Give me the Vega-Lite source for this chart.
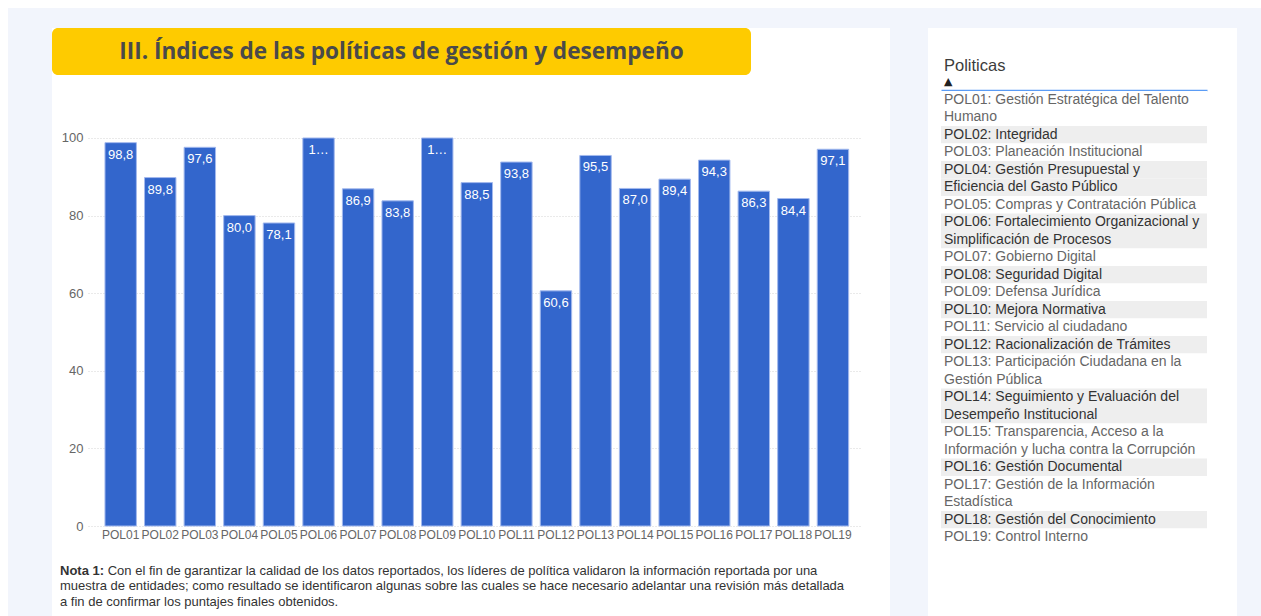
{
  "$schema": "https://vega.github.io/schema/vega-lite/v6.json",
  "padding": 0,
  "background": "#ffffff",
  "autosize": {"type": "pad"},
  "spacing": 0,
  "datasets": {
    "vacio": [{}],
    "politicas": [
      {"politica": "POL01", "indice": 98.8},
      {"politica": "POL02", "indice": 89.8},
      {"politica": "POL03", "indice": 97.6},
      {"politica": "POL04", "indice": 80.0},
      {"politica": "POL05", "indice": 78.1},
      {"politica": "POL06", "indice": 100.0},
      {"politica": "POL07", "indice": 86.9},
      {"politica": "POL08", "indice": 83.8},
      {"politica": "POL09", "indice": 100.0},
      {"politica": "POL10", "indice": 88.5},
      {"politica": "POL11", "indice": 93.8},
      {"politica": "POL12", "indice": 60.6},
      {"politica": "POL13", "indice": 95.5},
      {"politica": "POL14", "indice": 87.0},
      {"politica": "POL15", "indice": 89.4},
      {"politica": "POL16", "indice": 94.3},
      {"politica": "POL17", "indice": 86.3},
      {"politica": "POL18", "indice": 84.4},
      {"politica": "POL19", "indice": 97.1}
    ],
    "tabla": [
      {"pol": "POL01", "texto": "POL01: Gestión Estratégica del Talento"},
      {"pol": "POL01", "texto": "Humano"},
      {"pol": "POL02", "texto": "POL02: Integridad"},
      {"pol": "POL03", "texto": "POL03: Planeación Institucional"},
      {"pol": "POL04", "texto": "POL04: Gestión Presupuestal y"},
      {"pol": "POL04", "texto": "Eficiencia del Gasto Público"},
      {"pol": "POL05", "texto": "POL05: Compras y Contratación Pública"},
      {"pol": "POL06", "texto": "POL06: Fortalecimiento Organizacional y"},
      {"pol": "POL06", "texto": "Simplificación de Procesos"},
      {"pol": "POL07", "texto": "POL07: Gobierno Digital"},
      {"pol": "POL08", "texto": "POL08: Seguridad Digital"},
      {"pol": "POL09", "texto": "POL09: Defensa Jurídica"},
      {"pol": "POL10", "texto": "POL10: Mejora Normativa"},
      {"pol": "POL11", "texto": "POL11: Servicio al ciudadano"},
      {"pol": "POL12", "texto": "POL12: Racionalización de Trámites"},
      {"pol": "POL13", "texto": "POL13: Participación Ciudadana en la"},
      {"pol": "POL13", "texto": "Gestión Pública"},
      {"pol": "POL14", "texto": "POL14: Seguimiento y Evaluación del"},
      {"pol": "POL14", "texto": "Desempeño Institucional"},
      {"pol": "POL15", "texto": "POL15: Transparencia, Acceso a la"},
      {"pol": "POL15", "texto": "Información y lucha contra la Corrupción"},
      {"pol": "POL16", "texto": "POL16: Gestión Documental"},
      {"pol": "POL17", "texto": "POL17: Gestión de la Información"},
      {"pol": "POL17", "texto": "Estadística"},
      {"pol": "POL18", "texto": "POL18: Gestión del Conocimiento"},
      {"pol": "POL19", "texto": "POL19: Control Interno"}
    ],
    "nota": [
      {"linea": 1, "tipo": "negrita", "texto": "Nota 1:"},
      {"linea": 1, "tipo": "inicio", "texto": "Con el fin de garantizar la calidad de los datos reportados, los líderes de política validaron la información reportada por una"},
      {"linea": 2, "tipo": "normal", "texto": "muestra de entidades; como resultado se identificaron algunas sobre las cuales se hace necesario adelantar una revisión más detallada"},
      {"linea": 3, "tipo": "normal", "texto": "a fin de confirmar los puntajes finales obtenidos."}
    ]
  },
  "vconcat": [
    {"data": {"name": "vacio"}, "width": 1261, "height": 8, "mark": {"type": "text", "fontSize": 1}, "encoding": {"text": {"value": ""}}},
    {
      "spacing": 0,
      "bounds": "flush",
      "hconcat": [
        {"data": {"name": "vacio"}, "width": 8, "height": 20, "mark": {"type": "text", "fontSize": 1}, "encoding": {"text": {"value": ""}}},
        {"data": {"name": "vacio"}, "width": 1253, "height": 20, "view": {"fill": "#f2f5fc", "stroke": null}, "mark": {"type": "text", "fontSize": 1}, "encoding": {"text": {"value": ""}}}
      ]
    },
    {
      "spacing": 0,
      "hconcat": [
        {"data": {"name": "vacio"}, "width": 8, "height": 588, "mark": {"type": "text", "fontSize": 1}, "encoding": {"text": {"value": ""}}},
        {"data": {"name": "vacio"}, "width": 44, "height": 588, "view": {"fill": "#f2f5fc", "stroke": null}, "mark": {"type": "text", "fontSize": 1}, "encoding": {"text": {"value": ""}}},
        {
          "spacing": 0,
          "vconcat": [
            {
              "data": {"name": "vacio"},
              "width": 699,
              "height": 47,
              "view": {"fill": "#fecb00", "stroke": null, "cornerRadius": 6},
              "mark": {"type": "text", "font": "Open Sans", "fontWeight": "bold", "fontSize": 22.6, "color": "#4a4a4a", "align": "center", "baseline": "middle"},
              "encoding": {"text": {"value": "III. Índices de las políticas de gestión y desempeño"}}
            },
            {
              "spacing": 0,
              "bounds": "flush",
              "hconcat": [
                {"data": {"name": "vacio"}, "width": 36, "height": 487.75, "mark": {"type": "text", "fontSize": 1}, "encoding": {"text": {"value": ""}}},
                {
                  "width": 774,
                  "height": 451,
                  "data": {"name": "politicas"},
                  "encoding": {
                    "x": {
                      "field": "politica",
                      "type": "nominal",
                      "sort": null,
                      "scale": {"paddingInner": 0.206, "paddingOuter": 0.383, "align": 0.56},
                      "axis": {"title": null, "labelAngle": 0, "ticks": false, "domain": false, "grid": false, "labelFontSize": 12, "labelColor": "#666666", "labelPadding": 3}
                    },
                    "y": {
                      "field": "indice",
                      "type": "quantitative",
                      "scale": {"domain": [0, 116.237], "nice": false},
                      "axis": {"title": null, "values": [0, 20, 40, 60, 80, 100], "ticks": false, "domain": false, "labelFontSize": 13, "labelColor": "#666666", "labelPadding": 5, "grid": true, "gridColor": "#d4d4d4", "gridDash": [1, 2]}
                    }
                  },
                  "layer": [
                    {"mark": {"type": "bar", "color": "#3366cc", "stroke": "#a3b9ee", "strokeWidth": 1}},
                    {
                      "mark": {"type": "text", "color": "#ffffff", "fontSize": 13, "baseline": "alphabetic", "dy": 16, "limit": 26.5},
                      "encoding": {"text": {"field": "indice", "type": "quantitative", "format": ".1f"}}
                    }
                  ]
                },
                {"data": {"name": "vacio"}, "width": 28, "height": 451, "mark": {"type": "text", "fontSize": 1}, "encoding": {"text": {"value": ""}}}
              ]
            },
            {
              "spacing": 0,
              "bounds": "flush",
              "hconcat": [
                {"data": {"name": "vacio"}, "width": 8, "height": 46.5, "mark": {"type": "text", "fontSize": 1}, "encoding": {"text": {"value": ""}}},
                {
                  "width": 830,
                  "height": 46.5,
                  "data": {"name": "nota"},
                  "encoding": {
                    "y": {"field": "linea", "type": "ordinal", "axis": null, "scale": {"paddingInner": 0, "paddingOuter": 0}},
                    "x": {"datum": 0, "type": "quantitative", "scale": {"domain": [0, 1]}, "axis": null},
                    "text": {"field": "texto"}
                  },
                  "layer": [
                    {"transform": [{"filter": {"field": "tipo", "equal": "negrita"}}], "mark": {"type": "text", "align": "left", "baseline": "middle", "fontSize": 13, "fontWeight": "bold", "color": "#333333"}},
                    {"transform": [{"filter": {"field": "tipo", "equal": "inicio"}}], "mark": {"type": "text", "align": "left", "baseline": "middle", "fontSize": 13, "color": "#333333", "dx": 47.7}},
                    {"transform": [{"filter": {"field": "tipo", "equal": "normal"}}], "mark": {"type": "text", "align": "left", "baseline": "middle", "fontSize": 13, "color": "#333333"}}
                  ]
                }
              ]
            }
          ]
        },
        {"data": {"name": "vacio"}, "width": 38, "height": 588, "view": {"fill": "#f2f5fc", "stroke": null}, "mark": {"type": "text", "fontSize": 1}, "encoding": {"text": {"value": ""}}},
        {
          "spacing": 0,
          "vconcat": [
            {"data": {"name": "vacio"}, "width": 309, "height": 29, "mark": {"type": "text", "fontSize": 1}, "encoding": {"text": {"value": ""}}},
            {
              "spacing": 0,
              "bounds": "flush",
              "hconcat": [
                {"data": {"name": "vacio"}, "width": 13, "height": 455, "mark": {"type": "text", "fontSize": 1}, "encoding": {"text": {"value": ""}}},
                {
                  "width": 266,
                  "height": 455,
                  "data": {"name": "tabla"},
                  "title": {"text": "Politicas", "subtitle": "▲", "anchor": "start", "frame": "group", "dx": 3, "font": "Liberation Sans", "fontSize": 16.5, "fontWeight": "normal", "color": "#3c3c3c", "subtitleFont": "DejaVu Sans", "subtitleFontSize": 11, "subtitleColor": "#222222", "subtitlePadding": 2, "offset": 3},
                  "encoding": {
                    "y": {"field": "texto", "type": "nominal", "sort": null, "axis": null, "scale": {"paddingInner": 0, "paddingOuter": 0}}
                  },
                  "layer": [
                    {
                      "mark": {"type": "bar"},
                      "encoding": {
                        "x": {"datum": 0, "type": "quantitative", "scale": {"domain": [0, 1]}, "axis": {"orient": "top", "title": null, "labels": false, "ticks": false, "grid": false, "domainColor": "#5b9cf5", "domainWidth": 1.5, "offset": 1}},
                        "x2": {"datum": 1},
                        "fill": {"condition": {"test": {"field": "pol", "oneOf": ["POL02", "POL04", "POL06", "POL08", "POL10", "POL12", "POL14", "POL16", "POL18"]}, "value": "#eeeeee"}, "value": "#ffffff"}
                      }
                    },
                    {
                      "mark": {"type": "text", "align": "left", "baseline": "middle", "dx": 3, "fontSize": 14},
                      "encoding": {
                        "x": {"datum": 0, "type": "quantitative"},
                        "text": {"field": "texto"},
                        "color": {"condition": {"test": {"field": "pol", "oneOf": ["POL02", "POL04", "POL06", "POL08", "POL10", "POL12", "POL14", "POL16", "POL18"]}, "value": "#333333"}, "value": "#666666"}
                      }
                    }
                  ]
                },
                {"data": {"name": "vacio"}, "width": 30, "height": 455, "mark": {"type": "text", "fontSize": 1}, "encoding": {"text": {"value": ""}}}
              ]
            }
          ]
        },
        {"data": {"name": "vacio"}, "width": 24, "height": 588, "view": {"fill": "#f2f5fc", "stroke": null}, "mark": {"type": "text", "fontSize": 1}, "encoding": {"text": {"value": ""}}}
      ]
    }
  ],
  "config": {
    "view": {"stroke": null},
    "concat": {"spacing": 0},
    "font": "Liberation Sans",
    "locale": {"number": {"decimal": ",", "thousands": ".", "grouping": [3], "currency": ["", " €"]}}
  }
}
